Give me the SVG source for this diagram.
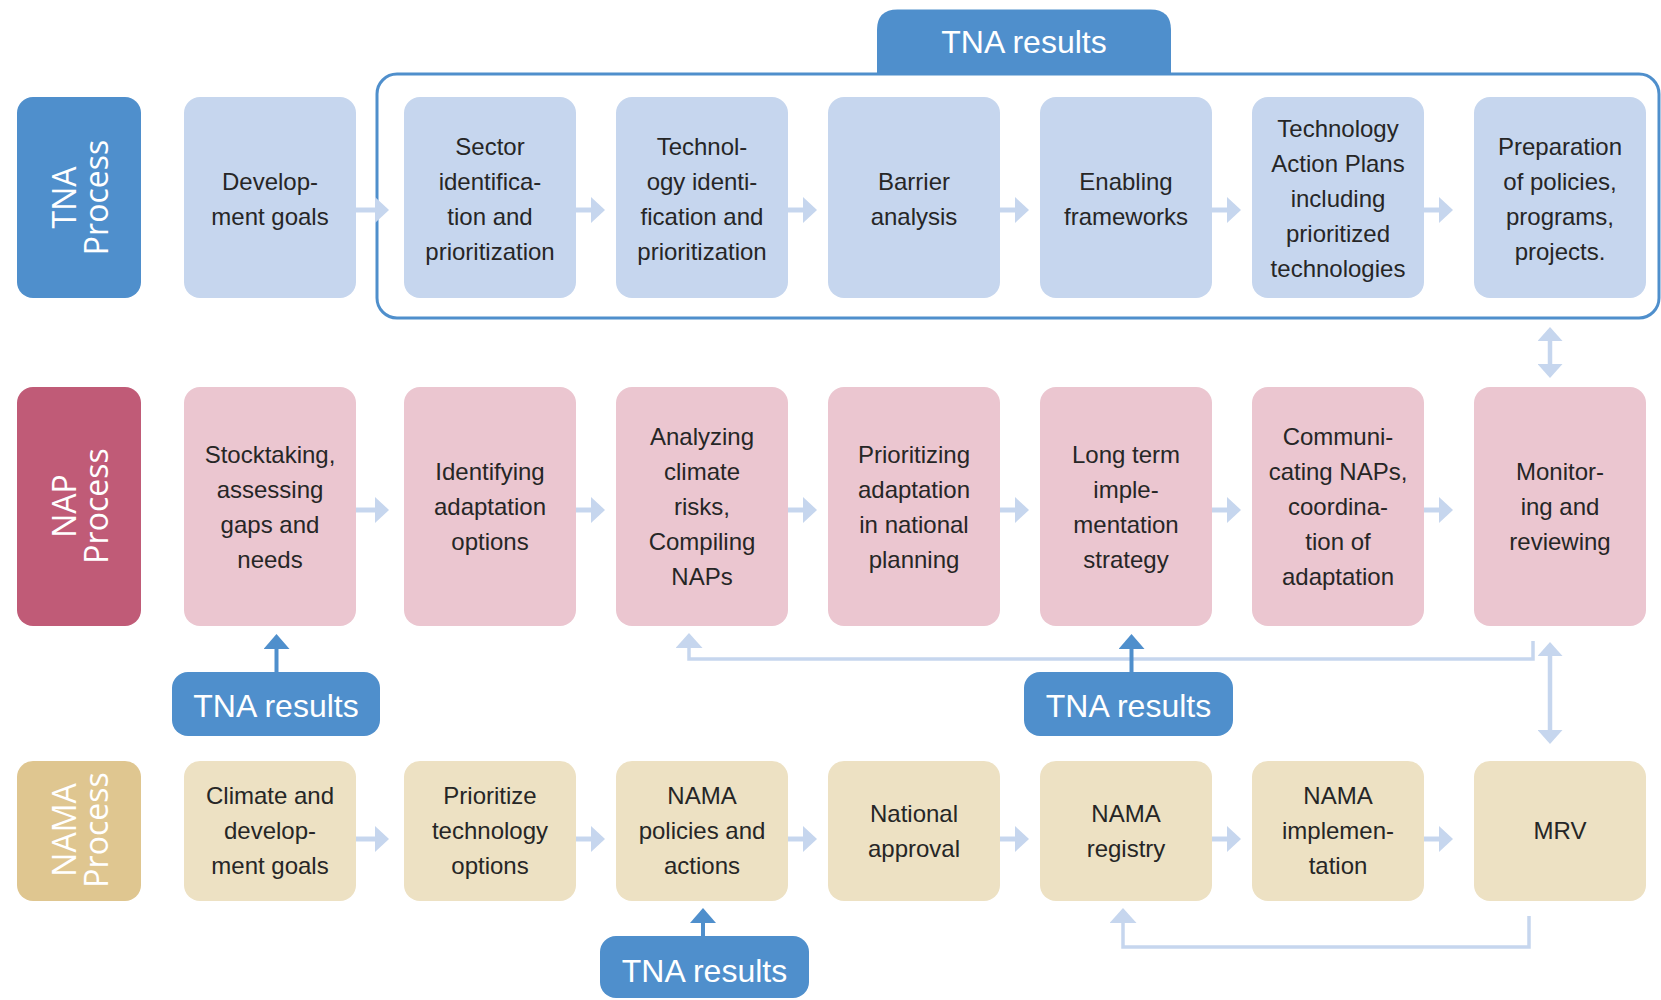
<svg xmlns="http://www.w3.org/2000/svg" width="1661" height="1000" viewBox="0 0 1661 1000">
<style>
.bg{fill:#ffffff}
.tna{fill:#c6d6ee}
.nap{fill:#ebc6d0}
.nama{fill:#ede1c3}
.lbl-tna{fill:#4f8fcc}
.lbl-nap{fill:#c05b77}
.lbl-nama{fill:#dfc690}
.res{fill:#4f8fcc}
.t{font-family:"Liberation Sans",Arial,sans-serif;font-size:24px;fill:#262626;text-anchor:middle}
.lt{font-family:"Open Sans","DejaVu Sans",sans-serif;font-size:32px;fill:#ffffff;text-anchor:middle}
.rt{font-family:"Liberation Sans",Arial,sans-serif;font-size:32px;fill:#ffffff;text-anchor:middle}
.flow{stroke:#c6d6ee;stroke-width:5;fill:none}
.fb{stroke:#c6d6ee;stroke-width:3.5;fill:none}
.dbl{stroke:#c6d6ee;stroke-width:4.5;fill:none}
.blue{stroke:#4f8fcc;stroke-width:4;fill:none}
.frame{stroke:#4f8fcc;stroke-width:3;fill:none}
</style>
<defs>
<marker id="ah" markerUnits="userSpaceOnUse" viewBox="0 -13 14 26" markerWidth="14" markerHeight="26" refX="1" refY="0" orient="auto"><path d="M0,-13 L14,0 L0,13 Z" fill="#c6d6ee"/></marker>
<marker id="ahd" markerUnits="userSpaceOnUse" viewBox="0 -12.5 14 25" markerWidth="14" markerHeight="25" refX="1" refY="0" orient="auto-start-reverse"><path d="M0,-12.5 L14,0 L0,12.5 Z" fill="#c6d6ee"/></marker>
<marker id="ahf" markerUnits="userSpaceOnUse" viewBox="0 -13.5 15 27" markerWidth="15" markerHeight="27" refX="1" refY="0" orient="auto"><path d="M0,-13.5 L15,0 L0,13.5 Z" fill="#c6d6ee"/></marker>
<marker id="ahb" markerUnits="userSpaceOnUse" viewBox="0 -13 15 26" markerWidth="15" markerHeight="26" refX="1" refY="0" orient="auto"><path d="M0,-13 L15,0 L0,13 Z" fill="#4f8fcc"/></marker>
</defs>
<rect class="bg" x="0" y="0" width="1661" height="1000"/>

<g id="tna-frame">
<rect class="frame" x="377" y="74" width="1282" height="244" rx="20"/>
<path class="res" d="M877,75 V30 Q877,9.5 897.5,9.5 H1150.5 Q1171,9.5 1171,30 V75 Z"/>
<text class="rt" x="1024" y="53">TNA results</text>
</g>

<g id="label-tna"><rect class="lbl-tna" x="17" y="97" width="124" height="201" rx="16"/>
<text class="lt" transform="translate(0,197.5) rotate(-90)"><tspan x="0" y="76">TNA</tspan><tspan x="0" y="108">Process</tspan></text></g>
<g id="label-nap"><rect class="lbl-nap" x="17" y="387" width="124" height="239" rx="16"/>
<text class="lt" transform="translate(0,506) rotate(-90)"><tspan x="0" y="76">NAP</tspan><tspan x="0" y="108">Process</tspan></text></g>
<g id="label-nama"><rect class="lbl-nama" x="17" y="761" width="124" height="140" rx="16"/>
<text class="lt" transform="translate(0,830) rotate(-90)"><tspan x="0" y="76">NAMA</tspan><tspan x="0" y="108">Process</tspan></text></g>

<g id="tna1"><rect class="tna" x="184" y="97" width="172" height="201" rx="16"/><text class="t"><tspan x="270" y="190">Develop-</tspan><tspan x="270" y="225">ment goals</tspan></text></g>
<g id="tna2"><rect class="tna" x="404" y="97" width="172" height="201" rx="16"/><text class="t"><tspan x="490" y="155">Sector</tspan><tspan x="490" y="190">identifica-</tspan><tspan x="490" y="225">tion and</tspan><tspan x="490" y="260">prioritization</tspan></text></g>
<g id="tna3"><rect class="tna" x="616" y="97" width="172" height="201" rx="16"/><text class="t"><tspan x="702" y="155">Technol-</tspan><tspan x="702" y="190">ogy identi-</tspan><tspan x="702" y="225">fication and</tspan><tspan x="702" y="260">prioritization</tspan></text></g>
<g id="tna4"><rect class="tna" x="828" y="97" width="172" height="201" rx="16"/><text class="t"><tspan x="914" y="190">Barrier</tspan><tspan x="914" y="225">analysis</tspan></text></g>
<g id="tna5"><rect class="tna" x="1040" y="97" width="172" height="201" rx="16"/><text class="t"><tspan x="1126" y="190">Enabling</tspan><tspan x="1126" y="225">frameworks</tspan></text></g>
<g id="tna6"><rect class="tna" x="1252" y="97" width="172" height="201" rx="16"/><text class="t"><tspan x="1338" y="137">Technology</tspan><tspan x="1338" y="172">Action Plans</tspan><tspan x="1338" y="207">including</tspan><tspan x="1338" y="242">prioritized</tspan><tspan x="1338" y="277">technologies</tspan></text></g>
<g id="tna7"><rect class="tna" x="1474" y="97" width="172" height="201" rx="16"/><text class="t"><tspan x="1560" y="155">Preparation</tspan><tspan x="1560" y="190">of policies,</tspan><tspan x="1560" y="225">programs,</tspan><tspan x="1560" y="260">projects.</tspan></text></g>

<g id="nap1"><rect class="nap" x="184" y="387" width="172" height="239" rx="16"/><text class="t"><tspan x="270" y="463">Stocktaking,</tspan><tspan x="270" y="498">assessing</tspan><tspan x="270" y="533">gaps and</tspan><tspan x="270" y="568">needs</tspan></text></g>
<g id="nap2"><rect class="nap" x="404" y="387" width="172" height="239" rx="16"/><text class="t"><tspan x="490" y="480">Identifying</tspan><tspan x="490" y="515">adaptation</tspan><tspan x="490" y="550">options</tspan></text></g>
<g id="nap3"><rect class="nap" x="616" y="387" width="172" height="239" rx="16"/><text class="t"><tspan x="702" y="445">Analyzing</tspan><tspan x="702" y="480">climate</tspan><tspan x="702" y="515">risks,</tspan><tspan x="702" y="550">Compiling</tspan><tspan x="702" y="585">NAPs</tspan></text></g>
<g id="nap4"><rect class="nap" x="828" y="387" width="172" height="239" rx="16"/><text class="t"><tspan x="914" y="463">Prioritizing</tspan><tspan x="914" y="498">adaptation</tspan><tspan x="914" y="533">in national</tspan><tspan x="914" y="568">planning</tspan></text></g>
<g id="nap5"><rect class="nap" x="1040" y="387" width="172" height="239" rx="16"/><text class="t"><tspan x="1126" y="463">Long term</tspan><tspan x="1126" y="498">imple-</tspan><tspan x="1126" y="533">mentation</tspan><tspan x="1126" y="568">strategy</tspan></text></g>
<g id="nap6"><rect class="nap" x="1252" y="387" width="172" height="239" rx="16"/><text class="t"><tspan x="1338" y="445">Communi-</tspan><tspan x="1338" y="480">cating NAPs,</tspan><tspan x="1338" y="515">coordina-</tspan><tspan x="1338" y="550">tion of</tspan><tspan x="1338" y="585">adaptation</tspan></text></g>
<g id="nap7"><rect class="nap" x="1474" y="387" width="172" height="239" rx="16"/><text class="t"><tspan x="1560" y="480">Monitor-</tspan><tspan x="1560" y="515">ing and</tspan><tspan x="1560" y="550">reviewing</tspan></text></g>

<g id="nama1"><rect class="nama" x="184" y="761" width="172" height="140" rx="16"/><text class="t"><tspan x="270" y="804">Climate and</tspan><tspan x="270" y="839">develop-</tspan><tspan x="270" y="874">ment goals</tspan></text></g>
<g id="nama2"><rect class="nama" x="404" y="761" width="172" height="140" rx="16"/><text class="t"><tspan x="490" y="804">Prioritize</tspan><tspan x="490" y="839">technology</tspan><tspan x="490" y="874">options</tspan></text></g>
<g id="nama3"><rect class="nama" x="616" y="761" width="172" height="140" rx="16"/><text class="t"><tspan x="702" y="804">NAMA</tspan><tspan x="702" y="839">policies and</tspan><tspan x="702" y="874">actions</tspan></text></g>
<g id="nama4"><rect class="nama" x="828" y="761" width="172" height="140" rx="16"/><text class="t"><tspan x="914" y="822">National</tspan><tspan x="914" y="857">approval</tspan></text></g>
<g id="nama5"><rect class="nama" x="1040" y="761" width="172" height="140" rx="16"/><text class="t"><tspan x="1126" y="822">NAMA</tspan><tspan x="1126" y="857">registry</tspan></text></g>
<g id="nama6"><rect class="nama" x="1252" y="761" width="172" height="140" rx="16"/><text class="t"><tspan x="1338" y="804">NAMA</tspan><tspan x="1338" y="839">implemen-</tspan><tspan x="1338" y="874">tation</tspan></text></g>
<g id="nama7"><rect class="nama" x="1474" y="761" width="172" height="140" rx="16"/><text class="t"><tspan x="1560" y="839">MRV</tspan></text></g>

<g id="res-nap1"><rect class="res" x="172" y="672" width="208" height="64" rx="16"/><text class="rt" x="276" y="717">TNA results</text></g>
<g id="res-nap5"><rect class="res" x="1024" y="672" width="209" height="64" rx="16"/><text class="rt" x="1128.5" y="717">TNA results</text></g>
<g id="res-nama3"><rect class="res" x="600" y="936" width="209" height="62" rx="16"/><text class="rt" x="704.5" y="982">TNA results</text></g>

<g id="connectors">
<path class="flow" marker-end="url(#ah)" d="M356,210 H376"/>
<path class="flow" marker-end="url(#ah)" d="M576,210 H592"/>
<path class="flow" marker-end="url(#ah)" d="M788,210 H804"/>
<path class="flow" marker-end="url(#ah)" d="M1000,210 H1016"/>
<path class="flow" marker-end="url(#ah)" d="M1212,210 H1228"/>
<path class="flow" marker-end="url(#ah)" d="M1424,210 H1440"/>
<path class="flow" marker-end="url(#ah)" d="M356,510 H376"/>
<path class="flow" marker-end="url(#ah)" d="M576,510 H592"/>
<path class="flow" marker-end="url(#ah)" d="M788,510 H804"/>
<path class="flow" marker-end="url(#ah)" d="M1000,510 H1016"/>
<path class="flow" marker-end="url(#ah)" d="M1212,510 H1228"/>
<path class="flow" marker-end="url(#ah)" d="M1424,510 H1440"/>
<path class="flow" marker-end="url(#ah)" d="M356,839 H376"/>
<path class="flow" marker-end="url(#ah)" d="M576,839 H592"/>
<path class="flow" marker-end="url(#ah)" d="M788,839 H804"/>
<path class="flow" marker-end="url(#ah)" d="M1000,839 H1016"/>
<path class="flow" marker-end="url(#ah)" d="M1212,839 H1228"/>
<path class="flow" marker-end="url(#ah)" d="M1424,839 H1440"/>
<path class="dbl" marker-start="url(#ahd)" marker-end="url(#ahd)" d="M1550,340 V365"/>
<path class="dbl" marker-start="url(#ahd)" marker-end="url(#ahd)" d="M1550,655 V731"/>
<path class="fb" marker-end="url(#ahf)" d="M1533,641 V659 H689 V647"/>
<path class="fb" marker-end="url(#ahf)" d="M1529,916 V947 H1123 V922"/>
<path class="blue" marker-end="url(#ahb)" d="M276.5,672 V648"/>
<path class="blue" marker-end="url(#ahb)" d="M1131.5,672 V648"/>
<path class="blue" marker-end="url(#ahb)" d="M703,936 V922"/>
</g>
</svg>
